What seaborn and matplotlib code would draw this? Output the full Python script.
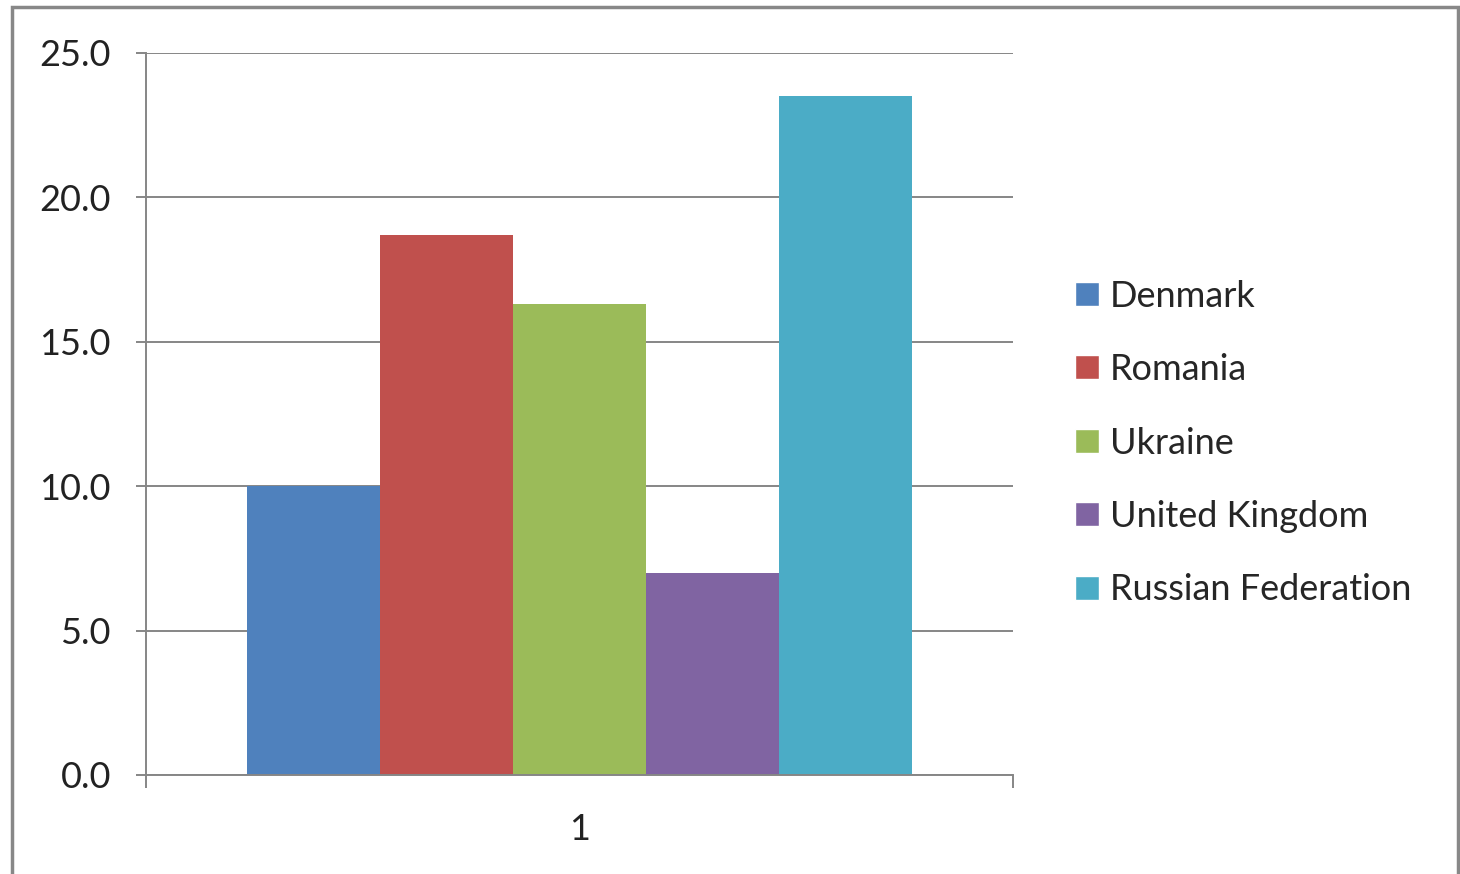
import pandas as pd
import seaborn as sns
import matplotlib.pyplot as plt
from matplotlib.patches import Rectangle

# data
countries = ['Denmark', 'Romania', 'Ukraine', 'United Kingdom', 'Russian Federation']
values = [10.0, 18.7, 16.3, 7.0, 23.5]
category = ['1'] * len(countries)
colors = ['#4F81BD', '#C0504D', '#9BBB59', '#8064A2', '#4BACC6']
yticks = [0, 5, 10, 15, 20, 25]

df = pd.DataFrame({'cat': category, 'country': countries, 'value': values})

sns.set_style('white')
plt.rcParams['font.family'] = ['Lato', 'DejaVu Sans']

fig = plt.figure(figsize=(14.6, 8.74), dpi=100)
ax = fig.add_axes([146 / 1460, 1 - 775 / 874, (1013 - 146) / 1460, (775 - 53) / 874])

sns.barplot(data=df, x='cat', y='value', hue='country', palette=colors,
            width=0.766, saturation=1, linewidth=0, ax=ax, legend=False)

grid_c = '#868686'
ax.set_xlim(-0.5, 0.5)
ax.set_ylim(0, 25)
ax.set_yticks(yticks)
ax.set_yticklabels([f'{v:.1f}' for v in yticks])
ax.yaxis.grid(True, color=grid_c, linewidth=1.4)
ax.set_axisbelow(True)
for s in ['top', 'right']:
    ax.spines[s].set_visible(False)
for s in ['left', 'bottom']:
    ax.spines[s].set_color(grid_c)
    ax.spines[s].set_linewidth(1.4)
ax.tick_params(axis='y', length=7.2, width=1.4, color=grid_c, pad=18,
               labelsize=26, labelcolor='#222222', left=True)
ax.set_xticks([-0.5, 0.5], minor=True)
ax.tick_params(axis='x', which='minor', length=9, width=1.4, color=grid_c, bottom=True)
ax.tick_params(axis='x', which='major', length=0, pad=27, labelsize=26, labelcolor='#222222')
ax.set_xlabel('')
ax.set_ylabel('')

handles = [Rectangle((0, 0), 1, 1, facecolor=c) for c in colors]
fig.legend(handles, countries, loc='center left', bbox_to_anchor=(1061 / 1460, 1 - 443 / 874),
           frameon=False, fontsize=26, handlelength=0.65, handleheight=0.65,
           handletextpad=0.3, labelspacing=1.12, borderaxespad=0)

# outer chart frame
fig.patches.append(Rectangle((12 / 1460, -0.05), (1458 - 12) / 1460, 1.05 - 7 / 874,
                             transform=fig.transFigure, fill=False,
                             edgecolor='#888888', linewidth=2.5))

fig.savefig('out.png', dpi=100, facecolor='white')
